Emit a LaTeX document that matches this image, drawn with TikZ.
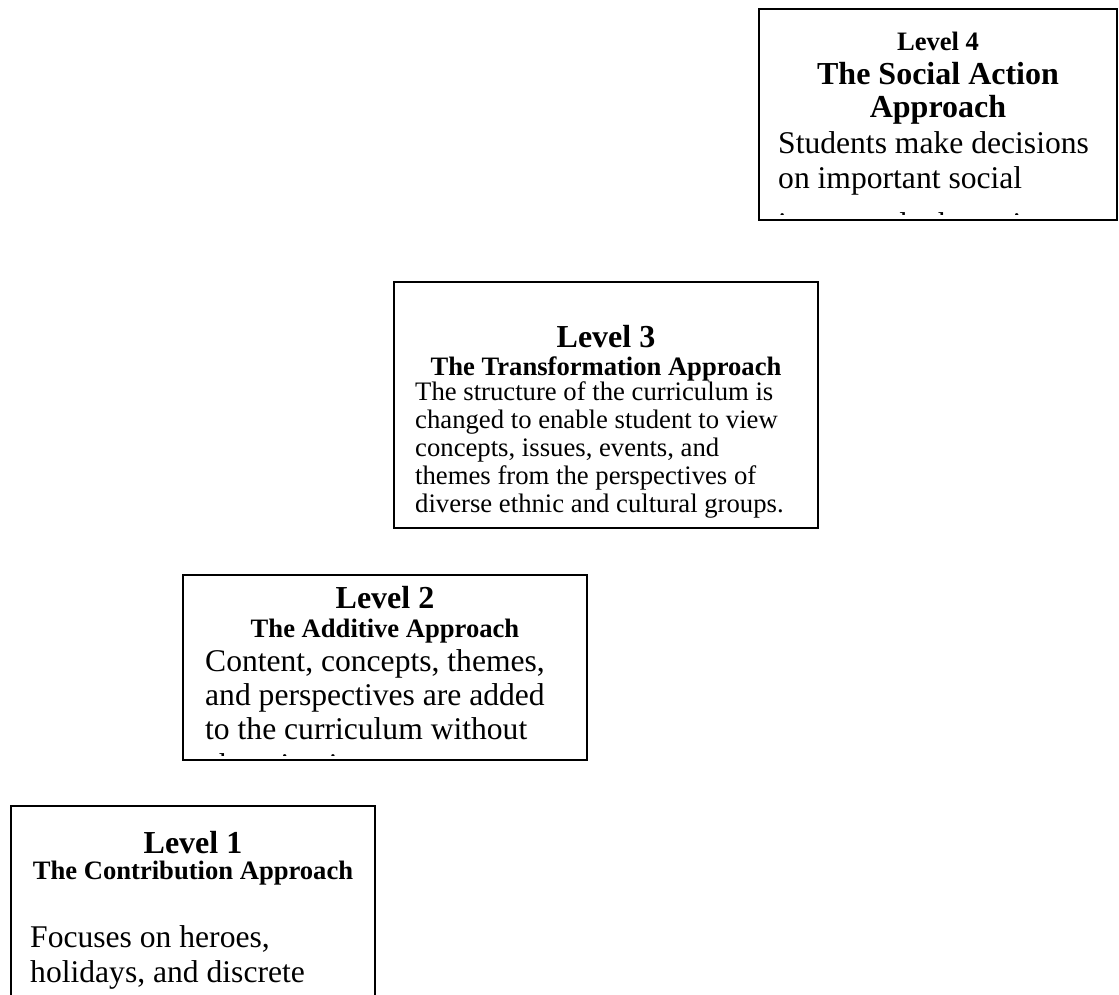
\documentclass[tikz,border=0pt]{standalone}
\usepackage{fontspec}
\setmainfont{Liberation Serif}
\tikzset{
  frame/.style={draw=black, line width=1.6pt, rectangle, inner sep=0pt, outer sep=0pt, anchor=north west},
  lvl/.style={font=\bfseries\fontsize{26.6}{30}\selectfont, anchor=base, inner sep=0pt},
  lvlbig/.style={font=\bfseries\fontsize{32}{36}\selectfont, anchor=base, inner sep=0pt},
  head/.style={font=\bfseries\fontsize{32}{36}\selectfont, anchor=base, inner sep=0pt},
  headsm/.style={font=\bfseries\fontsize{26.6}{30}\selectfont, anchor=base, inner sep=0pt},
  body/.style={font=\fontsize{31.6}{36}\selectfont, anchor=base west, inner sep=0pt},
  bodysm/.style={font=\fontsize{26.7}{30}\selectfont, anchor=base west, inner sep=0pt}
}
\begin{document}
\begin{tikzpicture}[x=1pt,y=-1pt]
\useasboundingbox (0,0) rectangle (1119,994);
% Box 4
\node (box4) [frame, minimum width=358pt, minimum height=211pt] at (759,9) {};
\begin{scope}
\clip (759,9) rectangle (1117,214);
\node (l4a) [lvl] at (938,50) {Level 4};
\node (l4b) [head] at (938,84) {The Social Action};
\node (l4c) [head] at (938,117) {Approach};
\node (l4d) [body] at (778,153) {Students make decisions};
\node (l4e) [body] at (778,188) {on important social};
\node (l4f) [body] at (778,234) {issues and take actions to};
\end{scope}
% Box 3
\node (box3) [frame, minimum width=424pt, minimum height=246pt] at (394,282) {};
\begin{scope}
\clip (394,282) rectangle (818,528);
\node (l3a) [lvlbig] at (606,347) {Level 3};
\node (l3b) [headsm] at (606,375) {The Transformation Approach};
\node (l3c) [bodysm] at (415,400) {The structure of the curriculum is};
\node (l3d) [bodysm] at (415,428) {changed to enable student to view};
\node (l3e) [bodysm] at (415,456) {concepts, issues, events, and};
\node (l3f) [bodysm] at (415,484) {themes from the perspectives of};
\node (l3g) [bodysm] at (415,512) {diverse ethnic and cultural groups.};
\end{scope}
% Box 2
\node (box2) [frame, minimum width=404pt, minimum height=185pt] at (183,575) {};
\begin{scope}
\clip (183,575) rectangle (587,755);
\node (l2a) [lvlbig] at (385,608) {Level 2};
\node (l2b) [headsm] at (385,637) {The Additive Approach};
\node (l2c) [body] at (205,671) {Content, concepts, themes,};
\node (l2d) [body] at (205,705) {and perspectives are added};
\node (l2e) [body] at (205,739) {to the curriculum without};
\node (l2f) [body] at (205,775) {changing its structure.};
\end{scope}
% Box 1
\node (box1) [frame, minimum width=364pt, minimum height=300pt] at (11,806) {};
\begin{scope}
\clip (11,806) rectangle (375,994);
\node (l1a) [lvlbig] at (193,853) {Level 1};
\node (l1b) [headsm] at (193,879) {The Contribution Approach};
\node (l1c) [body] at (30,947) {Focuses on heroes,};
\node (l1d) [body] at (30,982) {holidays, and discrete};
\end{scope}
\end{tikzpicture}
\end{document}
